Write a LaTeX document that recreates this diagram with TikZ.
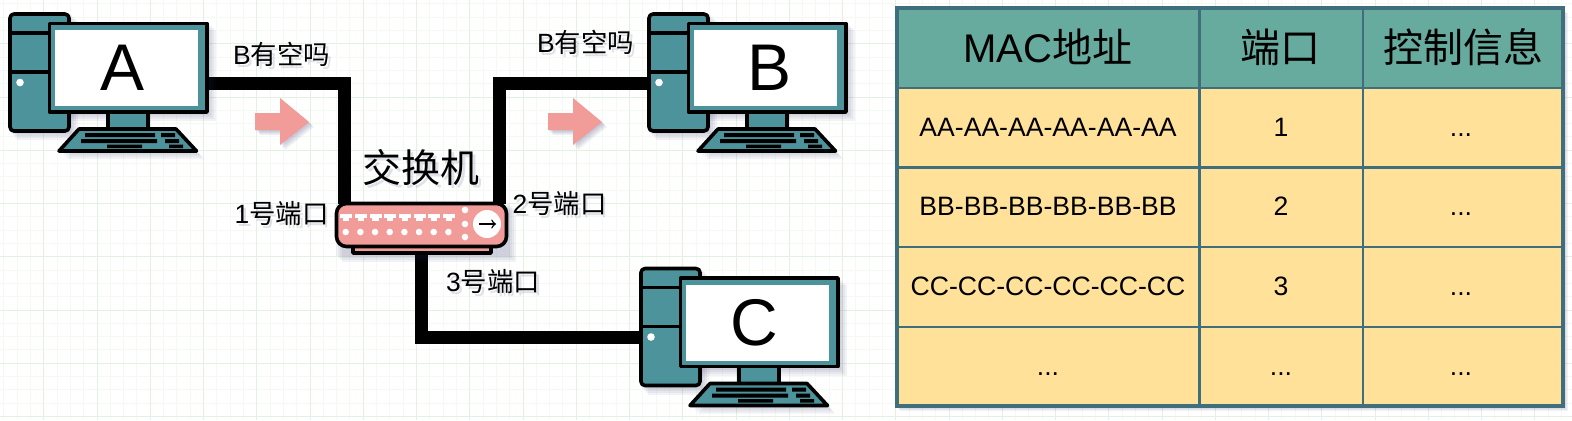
\documentclass[tikz,border=0pt]{standalone}
\usepackage{fontspec}
\setmainfont{Liberation Sans}
\newfontfamily\cjk{Noto Sans CJK SC}
\newcommand{\zh}[1]{{\cjk #1}}
\usetikzlibrary{calc}
\definecolor{teal1}{HTML}{4D939B}
\definecolor{pinkc}{HTML}{F19C99}
\definecolor{headc}{HTML}{67AB9F}
\definecolor{cellc}{HTML}{FFE199}
\definecolor{gridc}{HTML}{E3F0E3}
\definecolor{gridm}{HTML}{F4F9F4}
\definecolor{tabl}{HTML}{3F6E7C}
\definecolor{shade}{HTML}{30306A}
\tikzset{
  x=0.5pt,y=-0.5pt,
  shapeline/.style={draw=black,line width=1.8pt,line join=round},
  txt/.style={font=\fontsize{13.2}{13.2}\selectfont,inner sep=0pt,text=black},
  bigtxt/.style={font=\fontsize{19.5}{19.5}\selectfont,inner sep=0pt,text=black},
  wire/.style={draw=black,line width=6.5pt,line join=miter},
  wireshade/.style={draw=shade,line width=6.5pt,line join=miter,opacity=0.06},
  cellt/.style={font=\fontsize{13.3}{13.3}\selectfont,inner sep=0pt,anchor=base},
  headt/.style={font=\fontsize{20}{20}\selectfont,inner sep=0pt},
  letter/.style={font=\fontsize{33}{33}\selectfont,inner sep=0pt},
  softshadow/.style={fill=shade,opacity=0.06,draw=none},
  txtshade/.style={text=shade,opacity=0.14},
}
\newcommand{\computer}[5]{%
 \begin{scope}[shift={(#1,#2)}]
  \foreach \d in {2,4,6,8}{
   \fill[softshadow] (9+\d,13+\d) rectangle (70+\d,132+\d);
   \fill[softshadow] (48+\d,22+\d) rectangle (208+\d,113+\d);
   \fill[softshadow] (59+\d,151+\d) -- (78+\d,128+\d) -- (176+\d,128+\d) -- (196+\d,151+\d) -- cycle;
  }
  \draw[shapeline,fill=teal1,rounded corners=2pt] (10,14) rectangle (69,131);
  \draw[shapeline] (10,33) -- (50,33) (10,72) -- (50,72);
  \fill[white] (20,82.5) circle (3.8);
  \draw[shapeline,fill=teal1] (108,112) rectangle (148,129);
  \draw[shapeline,fill=teal1] (79,129) -- (176,129) -- (196.5,151) -- (59,151) -- cycle;
  \fill[black] (85,133) rectangle (155,137) (161,133) rectangle (175,137)
   (81,139) rectangle (157,143) (165,139) rectangle (179,143)
   (107,144.5) rectangle (142,148) (169,144.5) rectangle (183,148);
  \draw[shapeline,fill=teal1] (49.5,23.5) rectangle (207,112);
  \node[fill=white,minimum width=143*0.5pt,minimum height=76*0.5pt,inner sep=0pt,anchor=north west] (scr#3) at (55,30) {};
  \node[letter] (let#3) at (#5,68) {#4};
 \end{scope}}
\newcommand{\shtext}[5]{%
  \node[#1,txtshade] (#2s) at (#3+2.5,#4+3) {#5};
  \node[#1] (#2) at (#3,#4) {#5};}
\begin{document}
\begin{tikzpicture}
\useasboundingbox (0,0) rectangle (1572,420);
\fill[white] (0,0) rectangle (1572,420);
\foreach \i in {0,...,120}{
  \draw[gridm,line width=0.5pt] ({-9.5+13.3125*\i},0) -- ({-9.5+13.3125*\i},420);
  \draw[gridm,line width=0.5pt] (0,{-9.5+13.3125*\i}) -- (1572,{-9.5+13.3125*\i});
}
\foreach \i in {0,...,30}{
  \draw[gridc,line width=0.5pt] ({-9.5+53.25*\i},0) -- ({-9.5+53.25*\i},420);
  \draw[gridc,line width=0.5pt] (0,{-9.5+53.25*\i}) -- (1572,{-9.5+53.25*\i});
}
% switch anchor points
\coordinate (swL) at (344,204);
\coordinate (swR) at (499.5,204);
\coordinate (swB) at (421.5,250);
\coordinate (portRa) at (208,83);
\coordinate (portLb) at (649,83);
\coordinate (portLc) at (641,337);
% wire shadows
\foreach \d in {2,4,6}{
 \begin{scope}[shift={(\d,\d)}]
  \draw[wireshade] (portRa) -- (portRa -| swL) -- (swL);
  \draw[wireshade] (portLb) -- (portLb -| swR) -- (swR);
  \draw[wireshade] (swB) -- (swB |- portLc) -- (portLc);
 \end{scope}}
% wires
\draw[wire] (portRa) -- (portRa -| swL) -- (swL);
\draw[wire] (portLb) -- (portLb -| swR) -- (swR);
\draw[wire] (swB) -- (swB |- portLc) -- (portLc);
% computers
\computer{0}{0}{a}{A}{123}
\computer{639}{0}{b}{B}{130.5}
\computer{631}{254.5}{c}{C}{123.5}
% switch
\foreach \d in {2,4,6,8}{\fill[softshadow] (334+\d,202+\d) rectangle (508+\d,254+\d);}
\draw[shapeline,fill=pinkc] (353,246) rectangle (491,253);
\draw[shapeline,fill=pinkc,rounded corners=5pt] (336.5,203.5) rectangle (506.5,246.5);
\foreach \i in {0,...,7}{
  \fill[white] ({340.3+14.67*\i},214) rectangle +(12,4.3);
  \fill[white] ({343+14.67*\i},218) rectangle +(6.4,3.3);
  \fill[white] ({345.7+14.67*\i},232) circle (3.3);
}
\fill[white] (465,210) circle (3.3) (465,224) circle (3.3) (465,237) circle (3.3);
\node[circle,fill=white,minimum size=28*0.5pt,inner sep=0pt] (sw) at (487,224) {};
\draw[black,line width=0.7pt,->] (479,224) -- (496,224);
% pink arrows
\foreach \x in {255,548}{
\foreach \d in {1,2,3,4,5}{\fill[softshadow] (\x+\d,113+\d) -- (\x+25+\d,113+\d) -- (\x+25+\d,98+\d) -- (\x+54+\d,122+\d) -- (\x+25+\d,145+\d) -- (\x+25+\d,130+\d) -- (\x+\d,130+\d) -- cycle;}
\fill[pinkc] (\x,113) -- (\x+25,113) -- (\x+25,98) -- (\x+54,122) -- (\x+25,145) -- (\x+25,130) -- (\x,130) -- cycle;
}
% labels
\shtext{txt}{qa}{281.5}{54}{B\zh{有空吗}}
\shtext{txt}{qb}{585.5}{42}{B\zh{有空吗}}
\shtext{txt}{pa}{281.5}{214}{1\zh{号端口}}
\shtext{txt}{pb}{559.5}{204}{2\zh{号端口}}
\shtext{txt}{pc}{493}{282}{3\zh{号端口}}
\shtext{bigtxt}{swt}{421}{168}{\zh{交换机}}
% table
\foreach \d in {1,2,3,4,5}{\fill[softshadow] (897+\d-2,8+\d) rectangle (1563+\d,406+\d);}
\fill[headc] (897,8) rectangle (1563,88);
\fill[cellc] (897,88) rectangle (1563,406);
\draw[tabl,line width=1.4pt] (897,88) -- (1563,88) (897,167.5) -- (1563,167.5) (897,247) -- (1563,247) (897,327) -- (1563,327)
 (1199.5,8) -- (1199.5,406) (1363,8) -- (1363,406);
\draw[tabl,line width=1.6pt] (897,8) rectangle (1563,406);
\node[headt] (h1) at (1048,47) {MAC\zh{地址}};
\node[headt] (h2) at (1280,47) {\zh{端口}};
\node[headt] (h3) at (1463,47) {\zh{控制信息}};
\node[cellt] (r11) at (1048,136) {AA-AA-AA-AA-AA-AA};
\node[cellt] (r12) at (1281,136) {1};
\node[cellt] (r13) at (1461,136) {...};
\node[cellt] (r21) at (1048,215) {BB-BB-BB-BB-BB-BB};
\node[cellt] (r22) at (1281,215) {2};
\node[cellt] (r23) at (1461,215) {...};
\node[cellt] (r31) at (1048,295) {CC-CC-CC-CC-CC-CC};
\node[cellt] (r32) at (1281,295) {3};
\node[cellt] (r33) at (1461,295) {...};
\node[cellt] (r41) at (1048,375) {...};
\node[cellt] (r42) at (1281,375) {...};
\node[cellt] (r43) at (1461,375) {...};
\end{tikzpicture}
\end{document}
